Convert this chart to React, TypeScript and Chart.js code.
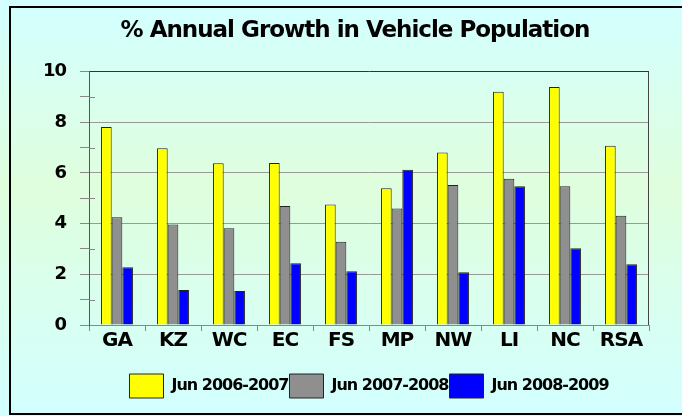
import React, { useEffect, useRef } from "react";
import { Chart, registerables } from "chart.js";

Chart.register(...registerables);

const categories = ["GA", "KZ", "WC", "EC", "FS", "MP", "NW", "LI", "NC", "RSA"];
const seriesNames = ["Jun 2006-2007", "Jun 2007-2008", "Jun 2008-2009"];
const growth0607 = [7.81, 6.98, 6.38, 6.39, 4.76, 5.4, 6.81, 9.2, 9.39, 7.07];
const growth0708 = [4.25, 3.97, 3.82, 4.7, 3.29, 4.6, 5.52, 5.77, 5.48, 4.31];
const growth0809 = [2.28, 1.38, 1.34, 2.44, 2.12, 6.13, 2.08, 5.48, 3.03, 2.4];
const seriesColors = ["#ffff00", "#8f8f8f", "#0000ff"];
const titleText = "% Annual Growth in Vehicle Population";

const FONT = "'DejaVu Sans', 'Liberation Sans', Arial, sans-serif";

const setSpacing = (c: any) => {
  try {
    (c.ctx as any).letterSpacing = "-1px";
  } catch (e) {}
};

const spacingPlugin = {
  id: "spacing",
  afterInit: setSpacing,
  beforeUpdate: setSpacing,
  beforeLayout: setSpacing,
  beforeDraw: setSpacing,
  afterLayout(chart: any) {
    // widen the y scale's label clip region leftwards (labels sit left of the narrow scale box)
    if (chart.scales && chart.scales.y) chart.scales.y.left = 12;
  },
};

const backgroundPlugin = {
  id: "bg",
  beforeDraw(chart: any) {
    const { ctx, width, height } = chart;
    ctx.save();
    const g = ctx.createLinearGradient(0, 0, 0, height);
    g.addColorStop(0, "#d2ffff");
    g.addColorStop(0.45, "#dffedd");
    g.addColorStop(1, "#d2ffff");
    ctx.fillStyle = g;
    ctx.fillRect(0, 0, width, height);
    ctx.fillStyle = "#000";
    ctx.fillRect(9, 6, width, 2);
    ctx.fillRect(9, 6, 2, 409);
    ctx.fillRect(9, 413, width, 2);
    ctx.restore();
  },
  afterDraw(chart: any) {
    const { ctx, chartArea } = chart;
    const y = chart.scales.y;
    ctx.save();
    ctx.lineWidth = 1;
    ctx.strokeStyle = "#888";
    for (let v = 1; v < 10; v += 2) {
      const py = Math.round(y.getPixelForValue(v)) + 0.5;
      ctx.beginPath();
      ctx.moveTo(chartArea.left, py);
      ctx.lineTo(chartArea.left + 6, py);
      ctx.stroke();
    }
    ctx.strokeStyle = "#444";
    ctx.beginPath();
    ctx.moveTo(Math.round(chartArea.right) - 0.5, chartArea.top);
    ctx.lineTo(Math.round(chartArea.right) - 0.5, chartArea.bottom);
    ctx.stroke();
    ctx.restore();
  },
};

export default function App() {
  const ref = useRef<HTMLCanvasElement | null>(null);

  useEffect(() => {
    if (!ref.current) return;
    const values = [growth0607, growth0708, growth0809];
    const chart = new Chart(ref.current, {
      type: "bar",
      data: {
        labels: categories,
        datasets: seriesNames.map((name, i) => ({
          label: name,
          data: values[i],
          backgroundColor: seriesColors[i],
          borderColor: "#222",
          borderWidth: 1,
          categoryPercentage: 0.57,
          barPercentage: 1,
        })),
      },
      options: {
        responsive: false,
        animation: false,
        devicePixelRatio: 1,
        layout: { padding: { left: 61, top: 10, right: 33, bottom: 8 } },
        plugins: {
          title: {
            display: true,
            text: titleText,
            color: "#000",
            font: { family: FONT, size: 23, weight: "bold" },
            padding: { top: 7, bottom: 27 },
          },
          legend: {
            position: "bottom",
            fullSize: false,
            labels: {
              boxWidth: 34,
              boxHeight: 24,
              padding: 1,
              color: "#000",
              font: { family: FONT, size: 16, weight: "bold" },
            },
          },
          tooltip: { enabled: false },
        },
        scales: {
          x: {
            afterFit: (s: any) => {
              s.height = 48;
            },
            grid: {
              offset: true,
              drawOnChartArea: false,
              tickLength: 6,
              color: "#888",
            },
            border: { color: "#888" },
            ticks: {
              color: "#000",
              padding: -2,
              font: { family: FONT, size: 20, weight: "bold" },
            },
          },
          y: {
            min: 0,
            max: 10,
            afterFit: (s: any) => {
              s.width = 28;
            },
            grid: {
              color: (c: any) =>
                c.tick && c.tick.value % 2 === 1
                  ? "rgba(0,0,0,0)"
                  : c.tick && c.tick.value === 10
                  ? "#333"
                  : "#999",
              tickColor: "#888",
              tickLength: 9,
            },
            border: { color: "#555" },
            ticks: {
              stepSize: 1,
              autoSkip: false,
              padding: 14,
              color: "#000",
              font: { family: FONT, size: 18, weight: "bold" },
              callback: (v: any) => (Number(v) % 2 === 0 ? String(v) : ""),
            },
          },
        },
      },
      plugins: [spacingPlugin, backgroundPlugin],
    } as any);
    return () => chart.destroy();
  }, []);

  return (
    <div style={{ position: "absolute", left: 0, top: 0, width: 682, height: 416 }}>
      <canvas ref={ref} width={682} height={416} style={{ display: "block" }} />
    </div>
  );
}
